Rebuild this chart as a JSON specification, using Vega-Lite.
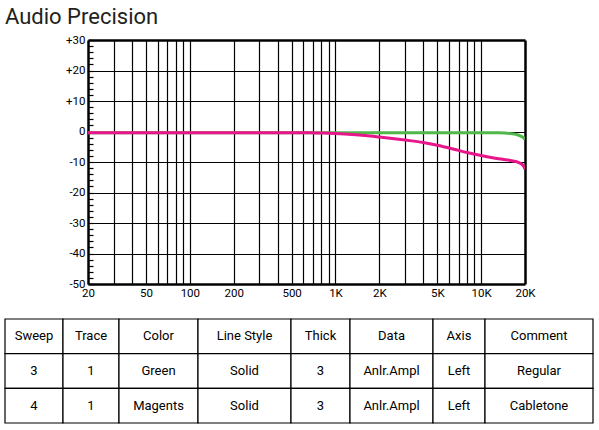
{
  "$schema": "https://vega.github.io/schema/vega-lite/v6.json",
  "padding": {"left": 4, "top": 6, "right": 0, "bottom": 0},
  "background": "white",
  "config": {"font": "Roboto", "view": {"stroke": null}},
  "datasets": {
    "response": [
      {"series": "Regular", "freq": 20, "dB": -0.4},
      {"series": "Regular", "freq": 100, "dB": -0.4},
      {"series": "Regular", "freq": 1000, "dB": -0.4},
      {"series": "Regular", "freq": 5000, "dB": -0.4},
      {"series": "Regular", "freq": 10000, "dB": -0.4},
      {"series": "Regular", "freq": 13000, "dB": -0.42},
      {"series": "Regular", "freq": 14500, "dB": -0.5},
      {"series": "Regular", "freq": 16000, "dB": -0.7},
      {"series": "Regular", "freq": 17500, "dB": -1.0},
      {"series": "Regular", "freq": 18700, "dB": -1.5},
      {"series": "Regular", "freq": 19500, "dB": -2.0},
      {"series": "Regular", "freq": 20000, "dB": -2.6},
      {"series": "Cabletone", "freq": 20, "dB": -0.4},
      {"series": "Cabletone", "freq": 200, "dB": -0.4},
      {"series": "Cabletone", "freq": 500, "dB": -0.4},
      {"series": "Cabletone", "freq": 700, "dB": -0.45},
      {"series": "Cabletone", "freq": 850, "dB": -0.52},
      {"series": "Cabletone", "freq": 1000, "dB": -0.65},
      {"series": "Cabletone", "freq": 1300, "dB": -0.95},
      {"series": "Cabletone", "freq": 1600, "dB": -1.3},
      {"series": "Cabletone", "freq": 2000, "dB": -1.8},
      {"series": "Cabletone", "freq": 3000, "dB": -2.8},
      {"series": "Cabletone", "freq": 4000, "dB": -3.6},
      {"series": "Cabletone", "freq": 5000, "dB": -4.5},
      {"series": "Cabletone", "freq": 6500, "dB": -5.8},
      {"series": "Cabletone", "freq": 8000, "dB": -6.9},
      {"series": "Cabletone", "freq": 10000, "dB": -7.9},
      {"series": "Cabletone", "freq": 12000, "dB": -8.6},
      {"series": "Cabletone", "freq": 14000, "dB": -9.1},
      {"series": "Cabletone", "freq": 16500, "dB": -9.65},
      {"series": "Cabletone", "freq": 18000, "dB": -10.1},
      {"series": "Cabletone", "freq": 19000, "dB": -10.7},
      {"series": "Cabletone", "freq": 19600, "dB": -11.4},
      {"series": "Cabletone", "freq": 20000, "dB": -12.4}
    ],
    "table": [
      {"r": "h", "Sweep": "Sweep", "Trace": "Trace", "Color": "Color", "LineStyle": "Line Style", "Thick": "Thick", "Data": "Data", "Axis": "Axis", "Comment": "Comment"},
      {"r": "1", "Sweep": "3", "Trace": "1", "Color": "Green", "LineStyle": "Solid", "Thick": "3", "Data": "Anlr.Ampl", "Axis": "Left", "Comment": "Regular"},
      {"r": "2", "Sweep": "4", "Trace": "1", "Color": "Magents", "LineStyle": "Solid", "Thick": "3", "Data": "Anlr.Ampl", "Axis": "Left", "Comment": "Cabletone"}
    ]
  },
  "spacing": 19,
  "vconcat": [
    {
      "width": 520,
      "height": 244,
      "title": {"text": "Audio Precision", "anchor": "start", "frame": "group", "fontSize": 22, "fontWeight": "normal", "font": "Roboto", "color": "#231f20", "baseline": "alphabetic", "offset": -12},
      "data": {"name": "response"},
      "mark": {"type": "line", "strokeWidth": 3, "interpolate": "monotone", "clip": true},
      "encoding": {
        "x": {
          "field": "freq", "type": "quantitative",
          "scale": {"type": "log", "domain": [20, 20000], "nice": false, "range": [83, 520]},
          "axis": {
            "values": [20, 30, 40, 50, 60, 70, 80, 90, 100, 200, 300, 400, 500, 600, 700, 800, 900, 1000, 2000, 3000, 4000, 5000, 6000, 7000, 8000, 9000, 10000, 20000],
            "labelExpr": "indexof([20,50,100,200,500,1000,2000,5000,10000,20000], datum.value) >= 0 ? (datum.value >= 1000 ? (datum.value/1000) + 'K' : '' + datum.value) : ''",
            "grid": true, "gridColor": "black", "gridOpacity": 1,
            "gridWidth": {"condition": {"test": "datum.value == 20 || datum.value == 20000", "value": 2.5}, "value": 1.2},
            "ticks": false, "domain": false, "title": null,
            "labelFontSize": 11.5, "labelColor": "black", "labelPadding": 3,
            "labelFlush": false, "labelOverlap": false, "labelFont": "Roboto"
          }
        },
        "y": {
          "field": "dB", "type": "quantitative",
          "scale": {"domain": [-50, 30], "nice": false, "zero": false},
          "axis": {
            "values": [-50, -48, -46, -44, -42, -40, -38, -36, -34, -32, -30, -28, -26, -24, -22, -20, -18, -16, -14, -12, -10, -8, -6, -4, -2, 0, 2, 4, 6, 8, 10, 12, 14, 16, 18, 20, 22, 24, 26, 28, 30],
            "labelExpr": "datum.value % 10 === 0 ? (datum.value > 0 ? '+' + datum.value : '' + datum.value) : ''",
            "grid": true, "gridColor": "black",
            "gridWidth": {"condition": {"test": "datum.value == -50 || datum.value == 30", "value": 2.5}, "value": 1.2},
            "gridOpacity": {"condition": {"test": "datum.value % 10 !== 0", "value": 0}, "value": 1},
            "tickSize": -5, "tickColor": "black", "tickWidth": 1.2, "offset": -83,
            "labelPadding": 8, "domain": false, "title": null,
            "labelFontSize": 11.5, "labelColor": "black", "labelOverlap": false, "labelFont": "Roboto"
          }
        },
        "color": {
          "field": "series", "type": "nominal",
          "scale": {"domain": ["Regular", "Cabletone"], "range": ["#4fb848", "#e8168b"]},
          "legend": null
        }
      }
    },
    {
      "spacing": 0,
      "bounds": "flush",
      "hconcat": [
        {"width": 58, "height": 104, "data": {"name": "table"}, "layer": [
          {"mark": {"type": "rect", "fill": "white", "stroke": "black", "strokeWidth": 1.2}, "encoding": {"y": {"field": "r", "type": "nominal", "sort": null, "scale": {"paddingInner": 0, "paddingOuter": 0}, "axis": null}}},
          {"mark": {"type": "text", "fontSize": 13, "font": "Roboto", "color": "black"}, "encoding": {"y": {"field": "r", "type": "nominal", "sort": null, "axis": null}, "text": {"field": "Sweep", "type": "nominal"}}}
        ]},
        {"width": 56, "height": 104, "data": {"name": "table"}, "layer": [
          {"mark": {"type": "rect", "fill": "white", "stroke": "black", "strokeWidth": 1.2}, "encoding": {"y": {"field": "r", "type": "nominal", "sort": null, "scale": {"paddingInner": 0, "paddingOuter": 0}, "axis": null}}},
          {"mark": {"type": "text", "fontSize": 13, "font": "Roboto", "color": "black"}, "encoding": {"y": {"field": "r", "type": "nominal", "sort": null, "axis": null}, "text": {"field": "Trace", "type": "nominal"}}}
        ]},
        {"width": 79, "height": 104, "data": {"name": "table"}, "layer": [
          {"mark": {"type": "rect", "fill": "white", "stroke": "black", "strokeWidth": 1.2}, "encoding": {"y": {"field": "r", "type": "nominal", "sort": null, "scale": {"paddingInner": 0, "paddingOuter": 0}, "axis": null}}},
          {"mark": {"type": "text", "fontSize": 13, "font": "Roboto", "color": "black"}, "encoding": {"y": {"field": "r", "type": "nominal", "sort": null, "axis": null}, "text": {"field": "Color", "type": "nominal"}}}
        ]},
        {"width": 93, "height": 104, "data": {"name": "table"}, "layer": [
          {"mark": {"type": "rect", "fill": "white", "stroke": "black", "strokeWidth": 1.2}, "encoding": {"y": {"field": "r", "type": "nominal", "sort": null, "scale": {"paddingInner": 0, "paddingOuter": 0}, "axis": null}}},
          {"mark": {"type": "text", "fontSize": 13, "font": "Roboto", "color": "black"}, "encoding": {"y": {"field": "r", "type": "nominal", "sort": null, "axis": null}, "text": {"field": "LineStyle", "type": "nominal"}}}
        ]},
        {"width": 59, "height": 104, "data": {"name": "table"}, "layer": [
          {"mark": {"type": "rect", "fill": "white", "stroke": "black", "strokeWidth": 1.2}, "encoding": {"y": {"field": "r", "type": "nominal", "sort": null, "scale": {"paddingInner": 0, "paddingOuter": 0}, "axis": null}}},
          {"mark": {"type": "text", "fontSize": 13, "font": "Roboto", "color": "black"}, "encoding": {"y": {"field": "r", "type": "nominal", "sort": null, "axis": null}, "text": {"field": "Thick", "type": "nominal"}}}
        ]},
        {"width": 83, "height": 104, "data": {"name": "table"}, "layer": [
          {"mark": {"type": "rect", "fill": "white", "stroke": "black", "strokeWidth": 1.2}, "encoding": {"y": {"field": "r", "type": "nominal", "sort": null, "scale": {"paddingInner": 0, "paddingOuter": 0}, "axis": null}}},
          {"mark": {"type": "text", "fontSize": 13, "font": "Roboto", "color": "black"}, "encoding": {"y": {"field": "r", "type": "nominal", "sort": null, "axis": null}, "text": {"field": "Data", "type": "nominal"}}}
        ]},
        {"width": 52, "height": 104, "data": {"name": "table"}, "layer": [
          {"mark": {"type": "rect", "fill": "white", "stroke": "black", "strokeWidth": 1.2}, "encoding": {"y": {"field": "r", "type": "nominal", "sort": null, "scale": {"paddingInner": 0, "paddingOuter": 0}, "axis": null}}},
          {"mark": {"type": "text", "fontSize": 13, "font": "Roboto", "color": "black"}, "encoding": {"y": {"field": "r", "type": "nominal", "sort": null, "axis": null}, "text": {"field": "Axis", "type": "nominal"}}}
        ]},
        {"width": 108, "height": 104, "data": {"name": "table"}, "layer": [
          {"mark": {"type": "rect", "fill": "white", "stroke": "black", "strokeWidth": 1.2}, "encoding": {"y": {"field": "r", "type": "nominal", "sort": null, "scale": {"paddingInner": 0, "paddingOuter": 0}, "axis": null}}},
          {"mark": {"type": "text", "fontSize": 13, "font": "Roboto", "color": "black"}, "encoding": {"y": {"field": "r", "type": "nominal", "sort": null, "axis": null}, "text": {"field": "Comment", "type": "nominal"}}}
        ]}
      ]
    }
  ]
}
